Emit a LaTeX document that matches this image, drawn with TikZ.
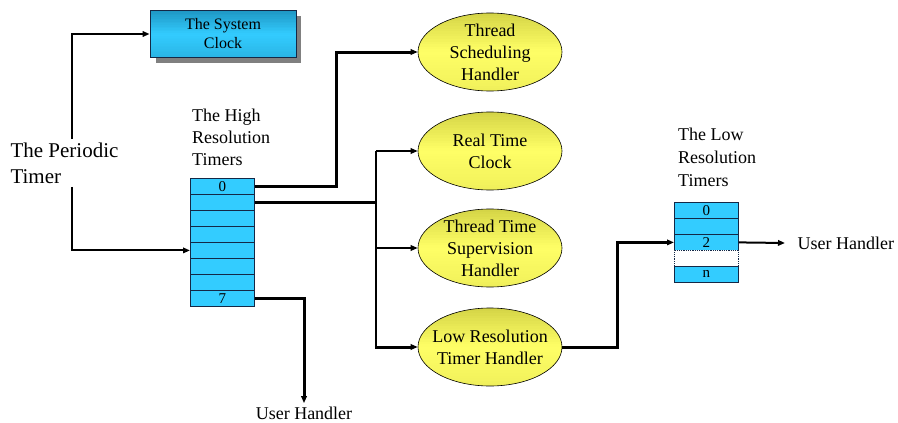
\documentclass[tikz,border=0pt]{standalone}
\usepackage{fontspec}
\setmainfont{Liberation Serif}
\usetikzlibrary{shapes.geometric,arrows.meta}
\definecolor{cyanL}{RGB}{51,204,255}
\definecolor{cyanD}{RGB}{30,150,195}
\definecolor{yelL}{RGB}{255,255,102}
\definecolor{yelD}{RGB}{212,212,70}
\definecolor{cellB}{RGB}{20,40,70}
\begin{document}
\begin{tikzpicture}[x=1pt,y=-1pt,
  grad/.style n args={4}{path picture={
    \foreach \i in {0,...,29}{
      \pgfmathsetmacro\tt{(\i+0.5)/30}
      \pgfmathsetmacro\pc{\tt<0.5 ? 100*(1-\tt/0.5) : #3*(\tt-0.5)/0.5}
      \fill[#1!\pc!#2] ([yshift={-\i*#4*1pt}]path picture bounding box.north west)
        rectangle ([yshift={-(\i+1)*#4*1pt-0.6pt}]path picture bounding box.north east);
    }}},
  cell/.style={draw=cellB,line width=0.8pt,fill=cyanL,minimum width=64pt,minimum height=16pt,
    inner sep=0pt,anchor=north west},
  blankcell/.style={cell,fill=white,densely dotted},
  celltxt/.style={inner sep=0pt,font=\fontsize{15}{15}\selectfont},
  hand/.style={ellipse,draw=black,line width=0.6pt,grad={yelD}{yelL}{35}{2.6},
    minimum width=144pt,minimum height=78pt,inner sep=0pt},
  handtxt/.style={align=center,inner sep=0pt,font=\fontsize{18}{22}\selectfont},
  sysbox/.style={draw=cellB,line width=0.8pt,grad={cyanD}{cyanL}{45}{1.6},
    minimum width=146pt,minimum height=47pt,inner sep=0pt},
  systxt/.style={align=center,inner sep=0pt,font=\fontsize{16}{19}\selectfont},
  lbl/.style={align=left,inner sep=0pt,font=\fontsize{18}{22}\selectfont},
  tip/.style={-{Triangle[length=7pt,width=5.5pt]}},
  conn/.style={line width=2pt,tip},
  thickconn/.style={line width=3pt,tip},
  plain/.style={line width=2.2pt}]
\useasboundingbox (0,0) rectangle (898,423);

% system clock (shadow then box)
\fill[gray] (156,16) rectangle (301,63);
\node[sysbox] (clk) at (223,34) {};

% high resolution timers
\node[cell] (hr0) at (190,178) {};
\node[cell] (hr1) at (190,194) {};
\node[cell] (hr2) at (190,210) {};
\node[cell] (hr3) at (190,226) {};
\node[cell] (hr4) at (190,242) {};
\node[cell] (hr5) at (190,258) {};
\node[cell] (hr6) at (190,274) {};
\node[cell] (hr7) at (190,290) {};

% handlers
\node[hand] (ts) at (490,52) {};
\node[hand] (rtc) at (490,151) {};
\node[hand] (tts) at (490,248) {};
\node[hand] (lrh) at (490,347) {};

% low resolution timers
\node[cell] (lr0) at (674,202) {};
\node[cell] (lr1) at (674,218) {};
\node[cell] (lr2) at (674,234) {};
\node[blankcell] (lr3) at (674,250) {};
\node[cell] (lr4) at (674,266) {};

% texts
\node[systxt] (clkT) at (clk) {The System\\Clock};
\node[celltxt] (hr0T) at (hr0) {0};
\node[celltxt] (hr7T) at (hr7) {7};
\node[celltxt] (lr0T) at (lr0) {0};
\node[celltxt] (lr2T) at (lr2) {2};
\node[celltxt] (lr4T) at (lr4) {n};
\node[handtxt] (tsT) at (ts) {Thread\\Scheduling\\Handler};
\node[handtxt] (rtcT) at (rtc) {Real Time\\Clock};
\node[handtxt] (ttsT) at (tts) {Thread Time\\Supervision\\Handler};
\node[handtxt] (lrhT) at (lrh) {Low Resolution\\Timer Handler};

\node[anchor=west,align=left,font=\fontsize{21}{26}\selectfont] (pt) at (7,163) {The Periodic\\Timer};
\coordinate (px) at (72,0);
\node[lbl,anchor=west] (hrl) at (192,137) {The High\\Resolution\\Timers};
\node[lbl,anchor=west,font=\fontsize{18}{23}\selectfont] (lrl) at (678,157) {The Low\\Resolution\\Timers};
\node[font=\fontsize{18}{22}\selectfont] (uh1) at (304,413) {User Handler};
\node[font=\fontsize{18}{22}\selectfont,anchor=west] (uh2) at (794,243) {User Handler};

% connectors
\coordinate (b0) at (336,0);
\coordinate (bus) at (376,0);
\coordinate (b2) at (617,0);

\draw[conn] (pt.north -| px) |- (clk.west);
\draw[conn] (pt.south -| px) |- (hr4.west);

\draw[thickconn] (hr0.east) -- (hr0.east -| b0) |- (ts.west);

\draw[plain] (hr1.east) -- (hr1.east -| bus);
\draw[plain] (bus |- rtc.west) -- (bus |- lrh.west);
\draw[conn] (bus |- rtc.west) -- (rtc.west);
\draw[conn] (bus |- tts.west) -- (tts.west);
\draw[thickconn] ([xshift=-1.1pt]bus |- lrh.west) -- (lrh.west);

\draw[plain] (hr7.east) -- (hr7.east -| uh1.north);
\draw[thickconn] ([yshift=1.1pt]hr7.east -| uh1.north) -- (uh1.north);

\draw[thickconn] (lrh.east) -- (lrh.east -| b2) |- (lr2.west);
\draw[conn] (lr2.east) -- ([xshift=-9pt]uh2.west);
\end{tikzpicture}
\end{document}
